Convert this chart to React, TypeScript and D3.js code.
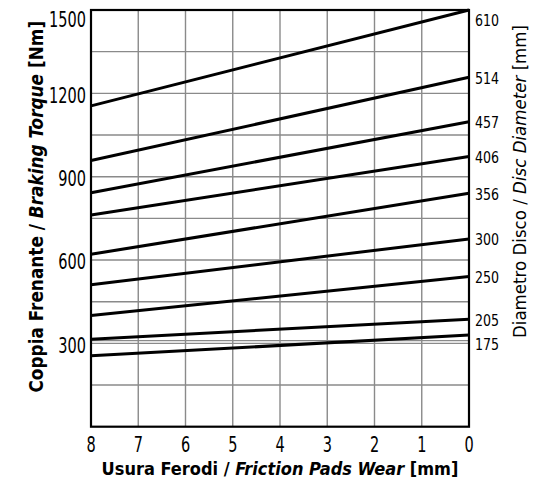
import React from "react";
import * as d3 from "d3";

const wearTicks = [8, 7, 6, 5, 4, 3, 2, 1, 0];
const torqueTickLabels = [300, 600, 900, 1200, 1500];
const torqueGrid = [150, 300, 310, 450, 600, 750, 900, 1050, 1200, 1350];
const wearGrid = [1, 2, 3, 4, 5, 6, 7];
const discDiameters = ["610", "514", "457", "406", "356", "300", "250", "205", "175"];
const torqueAtWear8 = [1155, 958, 842, 762, 621, 511, 400, 315, 255];
const torqueAtWear0 = [1500, 1258, 1098, 973, 840, 676, 541, 387, 330];

const W = 533;
const H = 481;
const FONT = "'DejaVu Sans Condensed', 'DejaVu Sans', sans-serif";

export default function App() {
  const x = d3.scaleLinear().domain([8, 0]).range([91, 469]);
  const y = d3.scaleLinear().domain([0, 1500]).range([426.7, 10]);
  const line = d3
    .line<[number, number]>()
    .x((d) => x(d[0]))
    .y((d) => y(d[1]));

  const labelYs: number[] = [];
  discDiameters.forEach((_, i) => {
    let ly = Math.max(y(torqueAtWear0[i]) + 1, 21);
    if (i > 0 && ly < labelYs[i - 1] + 24) ly = labelYs[i - 1] + 24;
    labelYs.push(ly);
  });

  return (
    <svg
      width={W}
      height={H}
      style={{ position: "absolute", left: 0, top: 0, background: "#fff" }}
      fontFamily={FONT}
    >
      <rect x={0} y={0} width={W} height={H} fill="#fff" />
      {torqueGrid.map((v) => (
        <line key={"h" + v} x1={x(8)} x2={x(0)} y1={y(v)} y2={y(v)} stroke="#8a8a8a" strokeWidth={1.4} />
      ))}
      {wearGrid.map((v) => (
        <line key={"v" + v} x1={x(v)} x2={x(v)} y1={y(0)} y2={y(1500)} stroke="#8a8a8a" strokeWidth={1.4} />
      ))}
      <rect
        x={x(8)}
        y={y(1500)}
        width={x(0) - x(8)}
        height={y(0) - y(1500)}
        fill="none"
        stroke="#000"
        strokeWidth={2.2}
      />
      {discDiameters.map((d, i) => (
        <path
          key={d}
          d={line([
            [8, torqueAtWear8[i]],
            [0, torqueAtWear0[i]],
          ]) as string}
          fill="none"
          stroke="#000"
          strokeWidth={3}
        />
      ))}
      {torqueTickLabels.map((v) => (
        <text
          key={"yl" + v}
          transform={`translate(86, ${Math.max(y(v) + 1.5, 19.5)}) scale(0.75, 1)`}
          textAnchor="end"
          dominantBaseline="central"
          fontSize={21.5}
        >
          {v}
        </text>
      ))}
      {wearTicks.map((v) => (
        <text
          key={"xl" + v}
          transform={`translate(${x(v)}, 444) scale(0.75, 1)`}
          textAnchor="middle"
          dominantBaseline="central"
          fontSize={21.5}
        >
          {v}
        </text>
      ))}
      {discDiameters.map((d, i) => (
        <text
          key={"dl" + d}
          transform={`translate(475, ${labelYs[i]}) scale(0.85, 1)`}
          dominantBaseline="central"
          fontSize={16.5}
        >
          {d}
        </text>
      ))}
      <text x={280} y={475} textAnchor="middle" fontSize={18} fontWeight="bold">
        Usura Ferodi / <tspan fontStyle="italic">Friction Pads Wear</tspan> [mm]
      </text>
      <text
        transform="translate(43, 206.7) rotate(-90)"
        textAnchor="middle"
        fontSize={18.8}
        fontWeight="bold"
      >
        Coppia Frenante / <tspan fontStyle="italic">Braking Torque</tspan> [Nm]
      </text>
      <text transform="translate(526, 181.5) rotate(-90)" textAnchor="middle" fontSize={18.5}>
        Diametro Disco / <tspan fontStyle="italic">Disc Diameter</tspan> [mm]
      </text>
    </svg>
  );
}
